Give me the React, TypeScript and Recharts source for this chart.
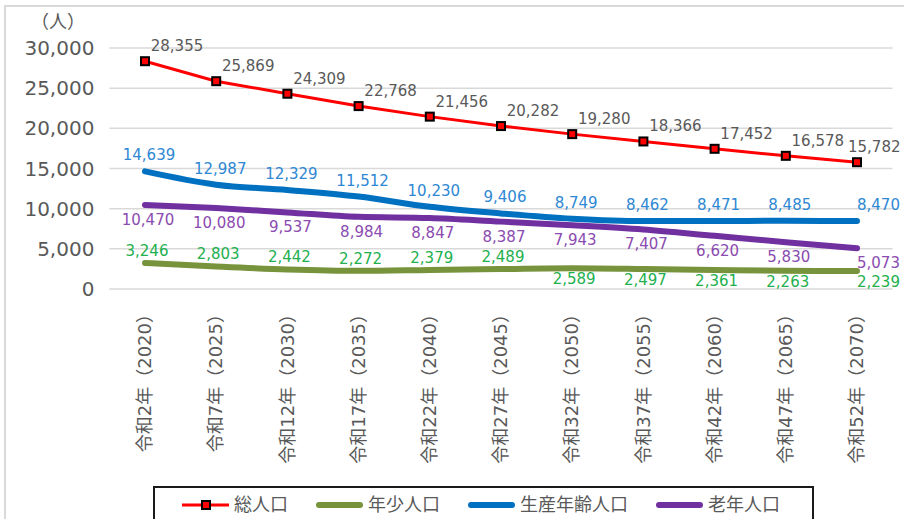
import { CartesianGrid, LabelList, Legend, Line, LineChart, XAxis, YAxis } from "recharts";

const FONT = "'DejaVu Sans', 'Noto Sans CJK JP', sans-serif";
const GRAY = "#595959";

const categories = [
  "令和2年（2020）",
  "令和7年（2025）",
  "令和12年（2030）",
  "令和17年（2035）",
  "令和22年（2040）",
  "令和27年（2045）",
  "令和32年（2050）",
  "令和37年（2055）",
  "令和42年（2060）",
  "令和47年（2065）",
  "令和52年（2070）"
];
const totalPop = [28355, 25869, 24309, 22768, 21456, 20282, 19280, 18366, 17452, 16578, 15782];
const youthPop = [3246, 2803, 2442, 2272, 2379, 2489, 2589, 2497, 2361, 2263, 2239];
const workingPop = [14639, 12987, 12329, 11512, 10230, 9406, 8749, 8462, 8471, 8485, 8470];
const elderlyPop = [10470, 10080, 9537, 8984, 8847, 8387, 7943, 7407, 6620, 5830, 5073];
const yTicks = [0, 5000, 10000, 15000, 20000, 25000, 30000];

const series = [
  { key: "total", name: "総人口", color: "#FF0000", labelColor: GRAY },
  { key: "youth", name: "年少人口", color: "#77933C", labelColor: "#22B04E" },
  { key: "working", name: "生産年齢人口", color: "#0070C0", labelColor: "#2E88D4" },
  { key: "elderly", name: "老年人口", color: "#7030A0", labelColor: "#8B4BB0" }
];

const data = categories.map((name, i) => ({
  name,
  total: totalPop[i],
  youth: youthPop[i],
  working: workingPop[i],
  elderly: elderlyPop[i]
}));

const fmt = (v: number) => v.toLocaleString("en-US");

function makeLabel(color: string, dx: number, dy: number, lastDx: number, belowFrom?: number, belowDy?: number) {
  return (props: any) => {
    const { x, y, value, index } = props;
    const last = index === categories.length - 1;
    const off = belowFrom !== undefined && index >= belowFrom ? (belowDy as number) : dy;
    return (
      <text
        x={last ? x + lastDx : x + dx}
        y={y + off}
        textAnchor={last ? "start" : "middle"}
        dominantBaseline="central"
        fill={color}
        fontSize={15}
        fontFamily={FONT}
      >
        {fmt(Number(value))}
      </text>
    );
  };
}

function SquareDot(props: any) {
  const { cx, cy } = props;
  if (cx == null || cy == null) return null;
  return <rect x={cx - 4} y={cy - 4} width={8} height={8} fill="#FF0000" stroke="#000" strokeWidth={2} />;
}

function XTick(props: any) {
  const { x, y, payload } = props;
  return (
    <text
      x={x}
      y={y}
      transform={`rotate(-90, ${x}, ${y})`}
      textAnchor="end"
      dy="0.35em"
      fill={GRAY}
      fontSize={18}
      fontFamily={FONT}
    >
      {payload.value}
    </text>
  );
}

function LegendBox() {
  return (
    <div
      style={{
        boxSizing: "border-box",
        width: 661,
        height: 44,
        border: "2px solid #1a1a1a",
        background: "#fff",
        display: "flex",
        alignItems: "flex-start",
        paddingLeft: 27,
        paddingTop: 2
      }}
    >
      {series.map((s, i) => (
        <div key={s.key} style={{ display: "flex", alignItems: "center", height: 30, marginRight: i < 3 ? 28 : 0 }}>
          <svg width={47} height={10} style={{ marginRight: 5 }}>
            {s.key === "total" ? (
              <>
                <line x1={0} y1={5} x2={47} y2={5} stroke={s.color} strokeWidth={3} />
                <rect x={20} y={1} width={8} height={8} fill="#FF0000" stroke="#000" strokeWidth={2} />
              </>
            ) : (
              <line x1={3} y1={5} x2={44} y2={5} stroke={s.color} strokeWidth={6} strokeLinecap="round" />
            )}
          </svg>
          <span style={{ fontFamily: FONT, fontSize: 18, color: GRAY, whiteSpace: "nowrap", lineHeight: "30px" }}>{s.name}</span>
        </div>
      ))}
    </div>
  );
}

export default function App() {
  return (
    <div style={{ position: "fixed", left: 0, top: 0, width: 904, height: 519, background: "#fff", overflow: "hidden" }}>
      <div
        style={{
          position: "absolute",
          left: 4,
          top: 5,
          width: 920,
          height: 540,
          border: "2px solid #D9D9D9",
          boxSizing: "border-box"
        }}
      />
      <div style={{ position: "absolute", left: 0, top: 0 }}>
        <LineChart width={904} height={519} data={data} margin={{ top: 48, right: 11.4, left: 0, bottom: 30 }}>
          <CartesianGrid vertical={false} stroke="#D9D9D9" strokeWidth={1.5} />
          <XAxis
            dataKey="name"
            height={200}
            padding={{ left: 35.6, right: 35.6 }}
            axisLine={false}
            tickLine={false}
            tickSize={0}
            tickMargin={16}
            interval={0}
            tick={<XTick />}
          />
          <YAxis
            width={109.4}
            domain={[0, 30000]}
            ticks={yTicks}
            axisLine={false}
            tickLine={false}
            tickSize={0}
            tickMargin={15}
            tickFormatter={fmt}
            tick={{ fill: GRAY, fontSize: 20, fontFamily: FONT }}
            label={{
              content: (p: any) => (
                <text
                  x={p.viewBox.x + 58}
                  y={p.viewBox.y - 27}
                  textAnchor="middle"
                  dominantBaseline="central"
                  fill={GRAY}
                  fontSize={18}
                  fontFamily={FONT}
                >
                  （人）
                </text>
              )
            }}
          />
          <Legend layout="horizontal" verticalAlign="middle" align="center" wrapperStyle={{ left: 153, top: 486, width: 661 }} content={() => <LegendBox />} />
          <Line
            dataKey="youth"
            name="年少人口"
            type="monotone"
            stroke="#77933C"
            strokeWidth={6}
            strokeLinecap="round"
            dot={false}
            activeDot={false}
            isAnimationActive={false}
          >
            <LabelList dataKey="youth" content={makeLabel("#22B04E", 2, -12, 0, 6, 11)} />
          </Line>
          <Line
            dataKey="elderly"
            name="老年人口"
            type="monotone"
            stroke="#7030A0"
            strokeWidth={6}
            strokeLinecap="round"
            dot={false}
            activeDot={false}
            isAnimationActive={false}
          >
            <LabelList dataKey="elderly" content={makeLabel("#8B4BB0", 3, 15, 0)} />
          </Line>
          <Line
            dataKey="working"
            name="生産年齢人口"
            type="monotone"
            stroke="#0070C0"
            strokeWidth={6}
            strokeLinecap="round"
            dot={false}
            activeDot={false}
            isAnimationActive={false}
          >
            <LabelList dataKey="working" content={makeLabel("#2E88D4", 4, -16, 0)} />
          </Line>
          <Line
            dataKey="total"
            name="総人口"
            type="linear"
            stroke="#FF0000"
            strokeWidth={3}
            dot={<SquareDot />}
            activeDot={false}
            isAnimationActive={false}
          >
            <LabelList dataKey="total" content={makeLabel(GRAY, 32, -15, -9)} />
          </Line>
        </LineChart>
      </div>
    </div>
  );
}
